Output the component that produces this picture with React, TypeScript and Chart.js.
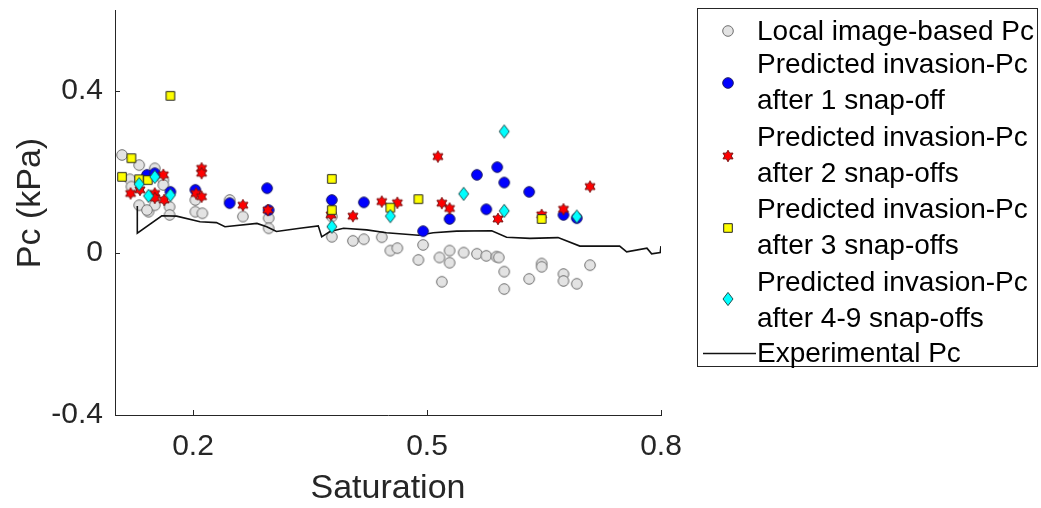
import React, { useEffect, useRef } from 'react';
import { Chart, registerables } from 'chart.js';

Chart.register(...registerables);

const FONT = '"Liberation Sans", Arial, Helvetica, sans-serif';

// Local image-based Pc
const localX = [0.109, 0.131, 0.151, 0.119, 0.121, 0.131, 0.143, 0.151, 0.162, 0.170, 0.170, 0.203, 0.203, 0.212, 0.247, 0.264, 0.297, 0.297, 0.378, 0.378, 0.405, 0.419, 0.442, 0.453, 0.462, 0.489, 0.495, 0.516, 0.529, 0.529, 0.519, 0.547, 0.564, 0.576, 0.589, 0.592, 0.599, 0.599, 0.631, 0.647, 0.647, 0.675, 0.675, 0.692, 0.709, 0.162, 0.141];
const localY = [0.242, 0.217, 0.209, 0.182, 0.164, 0.118, 0.102, 0.118, 0.180, 0.114, 0.094, 0.131, 0.102, 0.098, 0.131, 0.090, 0.086, 0.061, 0.090, 0.040, 0.030, 0.034, 0.039, 0.006, 0.012, -0.017, 0.020, -0.011, 0.006, -0.024, -0.071, 0.001, -0.002, -0.007, -0.009, -0.011, -0.046, -0.089, -0.064, -0.026, -0.034, -0.052, -0.069, -0.076, -0.030, 0.168, 0.106];

// Predicted invasion-Pc after 1 snap-off
const snap1X = [0.141, 0.151, 0.171, 0.203, 0.247, 0.295, 0.297, 0.378, 0.419, 0.495, 0.529, 0.564, 0.576, 0.590, 0.599, 0.631, 0.675, 0.692];
const snap1Y = [0.193, 0.197, 0.151, 0.156, 0.123, 0.160, 0.106, 0.131, 0.125, 0.054, 0.084, 0.193, 0.108, 0.212, 0.174, 0.151, 0.094, 0.086];

// after 2 snap-offs
const snap2X = [0.120, 0.132, 0.151, 0.151, 0.162, 0.163, 0.211, 0.211, 0.204, 0.211, 0.264, 0.296, 0.377, 0.405, 0.442, 0.462, 0.514, 0.519, 0.529, 0.591, 0.647, 0.675, 0.709];
const snap2Y = [0.147, 0.156, 0.147, 0.136, 0.193, 0.131, 0.209, 0.197, 0.147, 0.139, 0.118, 0.106, 0.094, 0.091, 0.127, 0.124, 0.238, 0.123, 0.110, 0.084, 0.094, 0.108, 0.164];

// after 3 snap-offs
const snap3X = [0.171, 0.121, 0.109, 0.131, 0.142, 0.378, 0.378, 0.453, 0.489, 0.647];
const snap3Y = [0.388, 0.234, 0.188, 0.182, 0.180, 0.183, 0.106, 0.112, 0.133, 0.084];

// after 4-9 snap-offs
const snap4X = [0.131, 0.151, 0.143, 0.171, 0.378, 0.453, 0.547, 0.599, 0.599, 0.692];
const snap4Y = [0.170, 0.188, 0.141, 0.143, 0.065, 0.091, 0.146, 0.104, 0.300, 0.090];

// Experimental Pc
const expX = [0.1286, 0.1286, 0.160, 0.179, 0.209, 0.230, 0.241, 0.282, 0.2945, 0.307, 0.337, 0.3606, 0.365, 0.3756, 0.393, 0.4227, 0.448, 0.489, 0.508, 0.538, 0.583, 0.602, 0.632, 0.668, 0.696, 0.747, 0.756, 0.782, 0.788, 0.799, 0.800];
const expY = [0.116, 0.049, 0.092, 0.091, 0.077, 0.075, 0.065, 0.073, 0.065, 0.053, 0.061, 0.067, 0.040, 0.053, 0.061, 0.057, 0.050, 0.044, 0.050, 0.054, 0.055, 0.039, 0.036, 0.038, 0.017, 0.017, 0.003, 0.012, -0.002, 0.001, 0.017];

const xTicks = [0.2, 0.5, 0.8];
const yTicks = [-0.4, 0, 0.4];
const xTitle = 'Saturation';
const yTitle = 'Pc (kPa)';
const legendLines = [
  ['Local image-based Pc'],
  ['Predicted invasion-Pc', 'after 1 snap-off'],
  ['Predicted invasion-Pc', 'after 2 snap-offs'],
  ['Predicted invasion-Pc', 'after 3 snap-offs'],
  ['Predicted invasion-Pc', 'after 4-9 snap-offs'],
  ['Experimental Pc'],
];

function pts(xs: number[], ys: number[]) {
  return xs.map((x, i) => ({ x, y: ys[i] }));
}

function marker(kind: string, fill: string, stroke: string): HTMLCanvasElement {
  const s = 16;
  const c = document.createElement('canvas');
  c.width = s;
  c.height = s;
  const g = c.getContext('2d')!;
  const m = s / 2;
  g.beginPath();
  if (kind === 'circle') {
    g.arc(m, m, 5.3, 0, Math.PI * 2);
  } else if (kind === 'square') {
    g.rect(m - 4.3, m - 4.3, 8.6, 8.6);
  } else if (kind === 'diamond') {
    g.moveTo(m, m - 6.6);
    g.lineTo(m + 5, m);
    g.lineTo(m, m + 6.6);
    g.lineTo(m - 5, m);
    g.closePath();
  } else {
    for (let i = 0; i < 12; i++) {
      const r = i % 2 === 0 ? 5.8 : 3.3;
      const a = -Math.PI / 2 + (i * Math.PI) / 6;
      const px = m + r * Math.cos(a);
      const py = m + r * Math.sin(a);
      if (i === 0) g.moveTo(px, py);
      else g.lineTo(px, py);
    }
    g.closePath();
  }
  g.fillStyle = fill;
  g.fill();
  g.lineWidth = 1;
  g.strokeStyle = stroke;
  g.stroke();
  return c;
}

export default function App() {
  const ref = useRef<HTMLCanvasElement | null>(null);

  useEffect(() => {
    if (!ref.current) return;
    const mGrey = marker('circle', '#e3e3e3', '#6e6e6e');
    const mBlue = marker('circle', '#0000ff', '#1a1a66');
    const mRed = marker('hexagram', '#ff0000', '#7a1010');
    const mYellow = marker('square', '#ffff00', '#222222');
    const mCyan = marker('diamond', '#00ffff', '#1f4f4f');
    const legendMarkers = [mGrey, mBlue, mRed, mYellow, mCyan];

    const deco = {
      id: 'deco',
      afterDraw(chart: any) {
        const ctx = chart.ctx;
        const area = chart.chartArea;
        const xs = chart.scales.x;
        const ys = chart.scales.y;
        ctx.save();
        // inward tick marks
        ctx.strokeStyle = '#262626';
        ctx.lineWidth = 1;
        ctx.beginPath();
        xTicks.forEach((v) => {
          const px = Math.round(xs.getPixelForValue(v)) + 0.5;
          ctx.moveTo(px, Math.round(area.bottom));
          ctx.lineTo(px, Math.round(area.bottom) - 5);
        });
        yTicks.forEach((v) => {
          const py = Math.round(ys.getPixelForValue(v)) + 0.5;
          ctx.moveTo(Math.round(area.left), py);
          ctx.lineTo(Math.round(area.left) + 5, py);
        });
        ctx.stroke();

        // axis titles
        ctx.fillStyle = '#262626';
        ctx.font = `34px ${FONT}`;
        ctx.textAlign = 'center';
        ctx.textBaseline = 'middle';
        ctx.fillText(xTitle, (area.left + area.right) / 2, 489);
        ctx.save();
        ctx.translate(31, 203);
        ctx.rotate(-Math.PI / 2);
        ctx.fillText(yTitle, 0, 0);
        ctx.restore();

        // legend
        ctx.strokeStyle = '#262626';
        ctx.lineWidth = 1;
        ctx.strokeRect(697.5, 8.5, 340, 358);
        ctx.fillStyle = '#000000';
        ctx.font = `28px ${FONT}`;
        ctx.textAlign = 'left';
        ctx.textBaseline = 'middle';
        const rowY = [[32], [65, 101], [138, 174], [210, 246], [283, 319], [354]];
        const markY = [31, 83, 156, 228, 299];
        legendLines.forEach((lines, i) => {
          lines.forEach((t, j) => ctx.fillText(t, 757, rowY[i][j]));
          if (i < legendMarkers.length) {
            const mk = legendMarkers[i];
            ctx.drawImage(mk, 728 - mk.width / 2, markY[i] - mk.height / 2);
          }
        });
        ctx.strokeStyle = '#111111';
        ctx.lineWidth = 1.6;
        ctx.beginPath();
        ctx.moveTo(703, 353.5);
        ctx.lineTo(756, 353.5);
        ctx.stroke();
        ctx.restore();
      },
    };

    const chart = new Chart(ref.current, {
      type: 'scatter',
      data: {
        datasets: [
          { label: 'Predicted invasion-Pc after 4-9 snap-offs', data: pts(snap4X, snap4Y), pointStyle: mCyan as any, pointRadius: 5, order: 1 },
          { label: 'Predicted invasion-Pc after 3 snap-offs', data: pts(snap3X, snap3Y), pointStyle: mYellow as any, pointRadius: 5, order: 2 },
          { label: 'Predicted invasion-Pc after 2 snap-offs', data: pts(snap2X, snap2Y), pointStyle: mRed as any, pointRadius: 5, order: 3 },
          { label: 'Predicted invasion-Pc after 1 snap-off', data: pts(snap1X, snap1Y), pointStyle: mBlue as any, pointRadius: 5, order: 4 },
          { label: 'Experimental Pc', data: pts(expX, expY), showLine: true, borderColor: '#111111', borderWidth: 1.6, pointRadius: 0, tension: 0, order: 5 } as any,
          { label: 'Local image-based Pc', data: pts(localX, localY), pointStyle: mGrey as any, pointRadius: 5, order: 6 },
        ],
      },
      options: {
        animation: false,
        responsive: true,
        maintainAspectRatio: false,
        layout: { padding: { left: 0, right: 380, top: 10, bottom: 0 } },
        plugins: { legend: { display: false }, tooltip: { enabled: false } },
        events: [],
        scales: {
          x: {
            type: 'linear',
            min: 0.1,
            max: 0.8,
            afterBuildTicks: (s: any) => { s.ticks = xTicks.map((v) => ({ value: v })); },
            afterFit: (s: any) => { s.height = 93; s.paddingLeft = 0; s.paddingRight = 0; },
            grid: { display: false, drawTicks: false },
            border: { display: true, color: '#262626', width: 1 },
            ticks: { font: { family: FONT, size: 30 }, color: '#262626', padding: 14, maxRotation: 0, autoSkip: false, callback: (v: any) => String(v) },
          },
          y: {
            type: 'linear',
            min: -0.4,
            max: 0.6,
            afterBuildTicks: (s: any) => { s.ticks = yTicks.map((v) => ({ value: v })); },
            afterFit: (s: any) => { s.width = 115; s.paddingTop = 0; s.paddingBottom = 0; },
            grid: { display: false, drawTicks: false },
            border: { display: true, color: '#262626', width: 1 },
            ticks: { font: { family: FONT, size: 30 }, color: '#262626', padding: 12, autoSkip: false, callback: (v: any) => String(v) },
          },
        },
      },
      plugins: [deco],
    });
    return () => chart.destroy();
  }, []);

  return (
    <div style={{ position: 'fixed', left: 0, top: 0, width: 1041, height: 508, background: '#ffffff' }}>
      <canvas ref={ref} />
    </div>
  );
}
